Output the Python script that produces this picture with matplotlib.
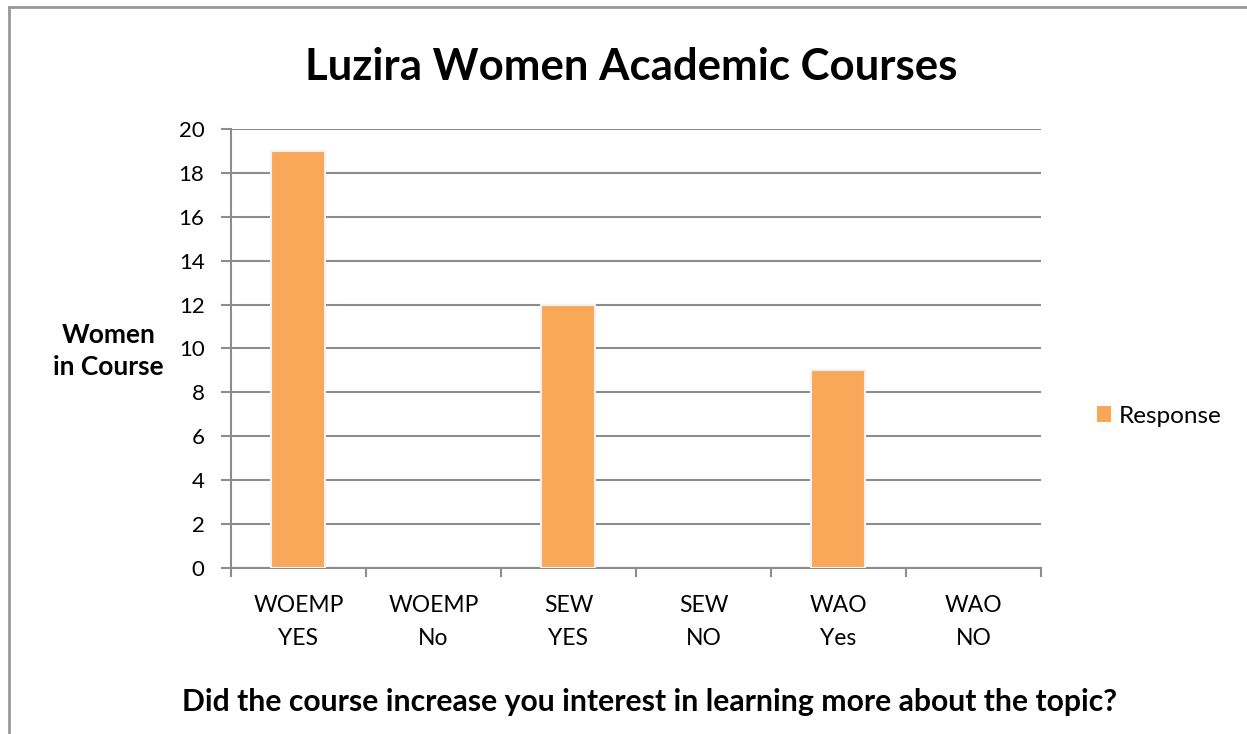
import matplotlib
matplotlib.use("Agg")
import matplotlib.pyplot as plt
from matplotlib.lines import Line2D
from matplotlib.patches import Patch

categories = ["WOEMP\nYES", "WOEMP\nNo", "SEW\nYES", "SEW\nNO", "WAO\nYes", "WAO\nNO"]
values = [19, 0, 12, 0, 9, 0]
yticks = list(range(0, 21, 2))
series_name = "Response"

plt.rcParams['font.family'] = ['Lato', 'DejaVu Sans']

fig = plt.figure(figsize=(12.47, 7.34), dpi=100)
ax = fig.add_axes([0.1852, 0.2262, 0.6496, 0.5981])

x = list(range(len(categories)))
bar_color = "#F9A85A"
edge_widths = [1.5 if v > 0 else 0 for v in values]
ax.bar(x, values, width=0.40, color=bar_color, edgecolor="#f2f2f2",
       linewidth=edge_widths, zorder=3)

ax.set_xlim(-0.5, len(categories) - 0.5)
ax.set_ylim(0, 20)
ax.set_yticks(yticks)
ax.set_xticks(x)
ax.set_xticklabels(categories, fontsize=16.5, linespacing=1.7)
ax.tick_params(axis='y', labelsize=16, length=7, color="#8c8c8c", width=1.5, pad=12)
ax.tick_params(axis='x', length=0, pad=19.5)
# category separator ticks
for b in [i - 0.5 for i in range(len(categories) + 1)]:
    ax.plot([b, b], [0, -0.35], color="#8c8c8c", lw=1.5, clip_on=False, zorder=2)

ax.yaxis.grid(True, color="#8c8c8c", linewidth=1.5, zorder=0)
ax.set_axisbelow(True)
for s in ["top", "right"]:
    ax.spines[s].set_visible(False)
for s in ["left", "bottom"]:
    ax.spines[s].set_color("#8c8c8c")
    ax.spines[s].set_linewidth(1.5)

fig.text(0.506, 0.909, "Luzira Women Academic Courses", ha="center", va="center",
         fontsize=31.5, fontweight="bold")
fig.text(0.087, 0.522, "Women\nin Course", ha="center", va="center",
         fontsize=19, fontweight="bold", linespacing=1.42)
fig.text(0.521, 0.0436, "Did the course increase you interest in learning more about the topic?",
         ha="center", va="center", fontsize=21.7, fontweight="bold")

handle = Patch(facecolor=bar_color, edgecolor="none")
fig.legend([handle], [series_name], loc="center left", bbox_to_anchor=(0.862, 0.433),
           frameon=False, fontsize=17.5, handlelength=0.6, handleheight=0.6, handletextpad=0.3)

# outer border (top and left)
fig.add_artist(Line2D([0.007, 1.0], [0.9905, 0.9905], color="#999999", lw=2, transform=fig.transFigure))
fig.add_artist(Line2D([0.0072, 0.0072], [0.0, 0.9905], color="#999999", lw=2, transform=fig.transFigure))

fig.savefig("out.png", dpi=100)
